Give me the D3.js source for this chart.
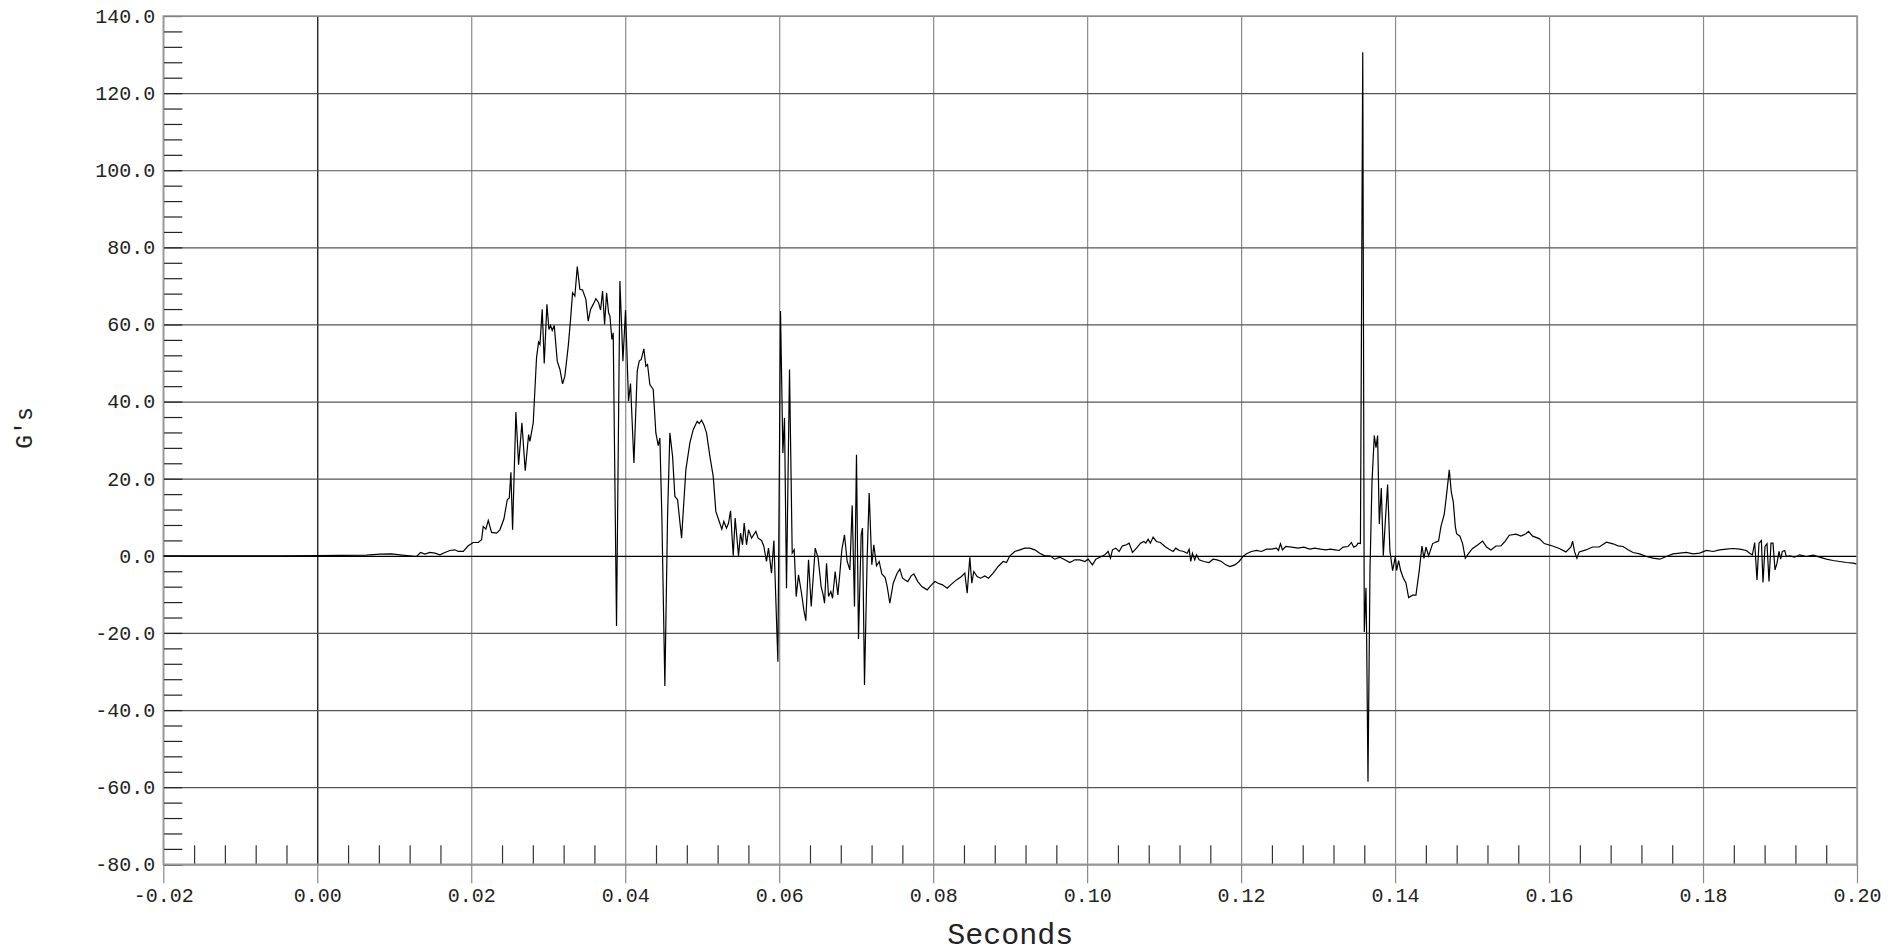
<!DOCTYPE html>
<html>
<head>
<meta charset="utf-8">
<script src="https://cdn.jsdelivr.net/npm/d3@7"></script>
<style>
  html, body { margin: 0; padding: 0; background: #fff; }
  svg { display: block; }
  text { font-family: "Liberation Mono", "DejaVu Sans Mono", monospace; fill: #222; }
</style>
</head>
<body>
<svg id="chart" width="1892" height="952"></svg>
<script>
// ---------------- DATA ----------------
const timeMs = [
  -20, -15, -10, -5, 0, 3, 6.41, 8.14, 9.65, 10.74, 12.90, 13.42, 13.98, 14.63, 15.28, 15.93, 16.58, 17.23, 17.88, 18.31, 18.96, 19.61, 20.26, 20.91, 21.34,
  21.56, 21.90, 22.21, 22.64, 23.29, 23.72, 24.24, 24.68, 24.94, 25.15, 25.37, 25.80, 26.15, 26.58, 27.01, 27.45, 27.62, 28.05, 28.48, 28.74, 28.92,
  29.22, 29.48, 29.83, 30.09, 30.30, 30.52, 30.78, 31.17, 31.52, 31.86, 32.16, 32.60, 32.90, 33.16, 33.46, 33.77, 34.11, 34.46, 34.89, 35.19, 35.50,
  35.84, 36.19, 36.54, 36.80, 37.06, 37.32, 37.58, 37.84, 38.01, 38.27, 38.44, 38.87, 39.31, 39.70, 40.04, 40.43, 40.69, 41.13, 41.56, 41.82, 42.08,
  42.42, 42.68, 42.90, 43.20, 43.64, 43.98, 44.29, 44.50, 44.76, 45.15, 45.50, 45.80, 46.15, 46.45, 46.80, 47.32, 47.88, 48.40, 48.83, 49.35, 49.61,
  49.91, 50.21, 50.56, 51.00, 51.43, 51.77, 52.21, 52.55, 52.81, 53.16, 53.42, 53.68, 54.03, 54.28, 54.72, 54.98, 55.24, 55.45, 55.76, 56.02, 56.41,
  56.97, 57.27, 57.71, 58.01, 58.35, 58.61, 59.00, 59.31, 59.83,
  60.17, 60.48, 60.69, 60.95, 61.34, 61.69, 61.95, 62.21, 62.51, 62.90, 63.20, 63.46, 63.81, 64.16, 64.68, 65.06, 65.45, 65.71, 65.89, 66.15, 66.41,
  66.71, 66.93, 67.27, 67.62, 67.88, 68.14, 68.48, 68.83, 69.18, 69.48, 69.78, 70.04, 70.30, 70.65, 70.82, 71.08, 71.43, 71.69, 72.03, 72.29, 72.64,
  72.99, 73.33, 73.77, 74.03, 74.37, 74.81, 75.32, 75.67, 76.02, 76.36, 76.71, 77.14, 77.49, 78.01, 78.53, 79.22, 79.78, 80.22, 80.65, 81.21, 81.82,
  82.42, 83.03, 83.68, 84.11, 84.42, 84.76, 85.02, 85.28, 85.71, 86.15, 86.71, 87.19, 87.79, 88.44, 89.10, 89.53, 89.96, 90.61, 91.26, 91.90, 92.55,
  93.20, 93.85, 94.50, 95.15, 95.80, 96.45, 97.10, 97.75, 98.40, 99.05, 99.70, 100.13, 100.69, 101.13, 101.65, 102.29, 102.73, 103.03, 103.29, 103.72,
  104.16, 104.59, 105.11, 105.45, 105.89, 106.41, 106.93, 107.36, 107.62, 107.92, 108.22, 108.57, 109.00, 109.52, 110.09, 110.65, 111.17, 111.52,
  111.95, 112.55, 112.99, 113.25, 113.46, 113.68, 113.98, 114.20, 114.55, 115.15, 115.84, 116.36, 116.88, 117.45, 118.01, 118.53, 119.18, 119.74,
  120.26, 120.69, 121.34, 121.99, 122.64, 123.29, 123.94, 124.59, 124.85, 125.11, 125.37, 125.80, 126.54, 127.40, 128.14, 128.92, 129.57, 130.30,
  131.00, 131.60, 132.21, 132.73, 133.25, 133.90, 134.33, 134.63, 134.98, 135.19, 135.50,
  135.80, 136.00, 136.22, 136.30, 136.48, 136.74, 137.00, 137.30, 137.52, 137.73, 137.95, 138.21, 138.47, 138.73, 139.03, 139.33, 139.68, 140.03,
  140.20, 140.46, 140.72, 141.07, 141.41, 141.76, 142.28, 142.71, 143.14, 143.49, 143.75, 144.01, 144.36, 144.88, 145.31, 145.65, 145.96, 146.39,
  146.69, 147.04, 147.30, 147.56, 147.82, 147.99, 148.42, 148.77, 149.12, 149.55, 150.07, 150.72, 151.37, 151.89, 152.45, 153.10, 153.75, 154.31,
  154.83, 155.70, 156.35, 157.00, 157.34, 157.86, 158.73, 159.38, 160.46, 161.33, 162.19, 162.84, 163.06, 163.32, 163.62, 163.92, 164.79, 165.65,
  166.52, 167.45, 168.31, 168.96, 169.61, 170.26, 170.91, 171.77, 172.64, 173.51, 174.37, 175.24, 176.10, 176.97, 177.84, 178.70, 179.57, 180.43,
  181.30, 182.16, 183.03, 183.90, 184.76, 185.63, 186.06, 186.41, 186.71, 187.01, 187.27, 187.58, 187.79, 188.05, 188.31, 188.57, 188.83, 189.09,
  189.35, 189.61, 189.87, 190.09, 190.30, 190.61, 190.82, 191.26, 191.90, 192.55, 193.42, 194.29, 195.15, 196.02, 196.88, 197.75, 198.62, 199.48, 199.91
];
const gValues = [
  0, 0, 0, 0, 0.05, 0.1, 0.17, 0.43, 0.52, 0.26, -0.17, 0.87, 0.43, 0.87, 0.69, 0.26, 0.87, 1.39, 1.56, 1.13, 1.13, 2.60, 3.46, 3.46, 4.16,
  7.62, 6.93, 9.18, 6.06, 5.89, 6.75, 9.53, 14.55, 14.98, 21.65, 6.75, 37.32, 23.64, 34.47, 22.08, 31.44, 29.70, 34.47, 51.35, 55.42, 54.82,
  63.91, 49.88, 65.21, 58.71, 59.75, 58.46, 59.75, 50.49, 48.32, 44.60, 46.59, 54.38, 61.31, 68.24, 67.37, 75.0, 69.11, 68.93, 66.51, 60.88, 63.91,
  65.21, 66.68, 65.64, 63.74, 68.67, 60.01, 68.24, 63.04, 62.18, 56.12, 57.85, -18.19, 71.27, 50.49, 63.74, 40.10, 44.69, 24.07, 47.89, 50.49, 50.92,
  53.69, 49.19, 49.62, 44.43, 43.13, 31.87, 28.58, 30.57, 10.22, -33.77, 10.22, 31.87, 25.81, 15.41, 14.55, 4.59, 22.34, 29.27, 32.73, 34.90, 34.29,
  35.16, 34.03, 31.87, 25.81, 20.61, 11.52, 8.92, 6.93, 8.92, 7.19, 8.49, 11.69, 0, 9.79, 0, 5.89, 2.86, 8.49, 2.86, 6.75, 4.59,
  6.32, 4.59, 3.98, 2.42, -1.47, 1.99, -4.50, 3.98, -27.45,
  63.48, 26.67, 35.77, -8.40, 48.32, 0.69, 1.56, -10.57, -4.94, -9.70, -14.03, -16.80, -1.04, -13.16, 1.99, -0.61, -7.97, -10.13, -12.30, -1.91, -10.57,
  -9.27, -11.00, -4.07, -10.13, -4.50, 1.56, 5.46, -1.47, -3.64, 13.08, -13.16, 26.24, -21.56, 5.46, 7.19, -33.51, -0.17, 16.28, -2.34, 2.86, -2.60,
  -1.47, -4.68, -5.63, -7.97, -12.30, -7.10, -4.50, -3.46, -5.80, -6.24, -6.67, -5.20, -4.68, -6.67, -7.97, -8.83, -7.53, -6.67, -7.10, -7.53, -8.40,
  -7.27, -6.24, -5.37, -4.50, -9.70, -0.35, -7.10, -4.07, -5.37, -5.80, -5.20, -5.80, -4.50, -2.77, -1.47, -1.73, 0, 1.13, 1.56, 1.99, 1.99,
  1.56, 0.69, 0, 0, -0.87, -0.35, -1.04, -1.73, -1.04, -1.04, -1.47, -0.87, -2.34, -0.87, -0.35, 0.26, 1.13, -0.61, 1.56, 1.99,
  1.13, 2.60, 2.86, 3.29, 0.87, 1.99, 3.29, 3.72, 3.29, 4.33, 3.29, 4.85, 3.72, 3.46, 2.42, 1.73, 1.13, 1.99,
  1.39, 1.13, 0.69, 1.73, -1.47, 0.69, -1.04, 0.26, -1.04, -1.47, -1.73, -0.87, -1.04, -1.47, -2.34, -2.77, -2.34, -1.47,
  -0.17, 0.52, 1.13, 1.39, 1.13, 1.73, 1.73, 1.99, 1.39, 3.12, 1.56, 2.42, 2.25, 1.99, 2.25, 1.73, 1.99, 1.73,
  1.56, 1.73, 1.56, 1.39, 2.25, 2.42, 3.46, 2.25, 2.60, 3.29, 3.18,
  130.57, -19.75, -8.28, -19.75, -58.60, -3.82, 19.11, 31.21, 28.03, 31.21, 8.28, 17.58, 0, 8.92, 18.47, 1.27, -3.82, -0.25,
  -3.82, -1.27, -3.82, -5.73, -7.01, -10.83, -10.19, -10.19, -3.82, 2.55, -0.64, 2.29, 0, 3.18, 3.57, 3.82, 7.64, 10.83,
  15.92, 22.29, 16.56, 14.01, 7.64, 5.73, 5.10, 3.18, -0.64, 0.64, 1.91, 2.80, 3.82, 2.29, 1.53, 2.55, 2.55, 3.82,
  5.35, 5.61, 5.10, 5.73, 6.37, 5.10, 4.46, 3.18, 2.55, 1.91, 1.02, 2.29, 3.82, 1.02, -0.64, 1.02, 1.53, 2.29,
  2.29, 3.55, 3.12, 2.60, 2.42, 1.56, 0.87, 0.52, -0.17, -0.61, -0.87, -0.17, 0.52, 0.69, 0.87, 0.52, 0.69, 1.39,
  1.13, 1.56, 1.73, 1.90, 1.73, 1.39, 0.69, 0.26, 3.46, -6.23, 3.29, 3.98, -6.93, 2.42, 3.12, -6.67, 3.29, 3.29,
  -3.64, -1.90, 1.13, -0.87, 1.13, 1.39, -0.17, 0, -0.35, 0.26, -0.17, 0.17, -0.35, -0.87, -1.21, -1.47, -1.73, -1.90, -2.08
];

const xMajorTicks = [-0.02, 0.00, 0.02, 0.04, 0.06, 0.08, 0.10, 0.12, 0.14, 0.16, 0.18, 0.20];
const xTickLabels = ["-0.02", "0.00", "0.02", "0.04", "0.06", "0.08", "0.10", "0.12", "0.14", "0.16", "0.18", "0.20"];
const yMajorTicks = [-80, -60, -40, -20, 0, 20, 40, 60, 80, 100, 120, 140];
const yTickLabels = ["-80.0", "-60.0", "-40.0", "-20.0", "0.0", "20.0", "40.0", "60.0", "80.0", "100.0", "120.0", "140.0"];
const xAxisTitle = "Seconds";
const yAxisTitle = "G's";

// ---------------- LAYOUT ----------------
const svg = d3.select("#chart");
const L = 163.3, R = 1857, T = 16, B = 864.3;
const W = R - L, H = B - T;
const TICK = 19;

const x = d3.scaleLinear().domain([-0.02, 0.20]).range([L, R]);
const y = d3.scaleLinear().domain([-80, 140]).range([B, T]);

const data = timeMs.map((t, i) => ({ t: t / 1000, g: gValues[i] }));

// minor ticks (5 sub-intervals per major)
const xMinor = d3.range(0, 11 * 5 + 1).map(i => -0.02 + i * 0.004).filter((v, i) => i % 5 !== 0);
const yMinor = d3.range(0, 11 * 5 + 1).map(i => -80 + i * 4).filter((v, i) => i % 5 !== 0);

// vertical grid lines
const xGrid = svg.append("g")
  .attr("transform", `translate(0,${B})`)
  .call(d3.axisBottom(x).tickValues(xMajorTicks).tickSize(-H).tickFormat(""));
xGrid.select(".domain").remove();
xGrid.selectAll(".tick line")
  .attr("stroke", d => Math.abs(d) < 1e-9 ? "#000" : "#8a8a8a")
  .attr("stroke-width", 1.2);

// horizontal grid lines
const yGrid = svg.append("g")
  .attr("transform", `translate(${L},0)`)
  .call(d3.axisLeft(y).tickValues(yMajorTicks).tickSize(-W).tickFormat(""));
yGrid.select(".domain").remove();
yGrid.selectAll(".tick line")
  .attr("stroke", d => d === 0 ? "#000" : "#555")
  .attr("stroke-width", 1.2);

// y minor + major ticks inside (pointing right)
const yIn = svg.append("g")
  .attr("transform", `translate(${L},0)`)
  .call(d3.axisRight(y).tickValues(yMinor.concat(yMajorTicks)).tickSize(TICK).tickFormat(""));
yIn.select(".domain").remove();
yIn.selectAll(".tick line").attr("stroke", "#222").attr("stroke-width", 1.2);

// x minor ticks inside (pointing up)
const xIn = svg.append("g")
  .attr("transform", `translate(0,${B})`)
  .call(d3.axisTop(x).tickValues(xMinor).tickSize(TICK).tickFormat(""));
xIn.select(".domain").remove();
xIn.selectAll(".tick line").attr("stroke", "#333").attr("stroke-width", 1.2);

// frame
svg.append("rect")
  .attr("x", L).attr("y", T).attr("width", W).attr("height", H)
  .attr("fill", "none").attr("stroke", "#999").attr("stroke-width", 1.6);

// x axis: major ticks below + labels
const xAxis = svg.append("g")
  .attr("transform", `translate(0,${B})`)
  .call(d3.axisBottom(x).tickValues(xMajorTicks).tickSize(TICK).tickPadding(5)
    .tickFormat((d, i) => xTickLabels[i]));
xAxis.select(".domain").remove();
xAxis.selectAll(".tick line").attr("stroke", "#888").attr("stroke-width", 1.2);
xAxis.selectAll(".tick text").attr("font-size", 20).attr("fill", "#222")
  .style("font-family", '"Liberation Mono", monospace');

// y axis labels
const yAxis = svg.append("g")
  .attr("transform", `translate(${L},0)`)
  .call(d3.axisLeft(y).tickValues(yMajorTicks).tickSize(0).tickPadding(8)
    .tickFormat((d, i) => yTickLabels[i]));
yAxis.select(".domain").remove();
yAxis.selectAll(".tick text").attr("font-size", 20).attr("fill", "#222")
  .style("font-family", '"Liberation Mono", monospace');

// axis titles
svg.append("text")
  .attr("x", (L + R) / 2).attr("y", 944)
  .attr("text-anchor", "middle")
  .attr("font-size", 30)
  .text(xAxisTitle);

svg.append("text")
  .attr("transform", `translate(32,428) rotate(-90)`)
  .attr("text-anchor", "middle")
  .attr("font-size", 23)
  .text(yAxisTitle);

// data line
const line = d3.line().x(d => x(d.t)).y(d => y(d.g));
svg.append("path")
  .datum(data)
  .attr("fill", "none")
  .attr("stroke", "#000")
  .attr("stroke-width", 1.2)
  .attr("stroke-linejoin", "miter")
  .attr("d", line);
</script>
</body>
</html>
